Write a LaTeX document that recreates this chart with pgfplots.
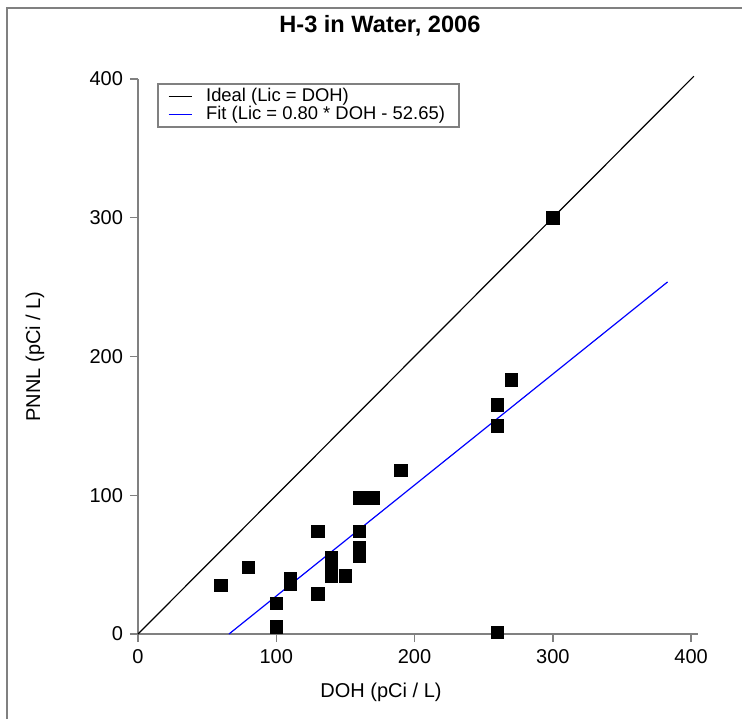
\documentclass[border=0pt]{standalone}
\usepackage{pgfplots}
\pgfplotsset{compat=1.18}
\usepackage{fontspec}
\setmainfont{Liberation Sans}

\begin{document}
\begin{tikzpicture}
\useasboundingbox (-69pt,-42.5pt) rectangle (302pt,317pt);
\draw[gray, line width=1pt] (-65.5pt,-42.5pt) -- (-65.5pt,313pt) -- (302pt,313pt);
\begin{axis}[
  scale only axis,
  width=280pt, height=277.5pt,
  xmin=0, xmax=405, ymin=0, ymax=400,
  enlargelimits=false,
  clip=false,
  axis lines*=left,
  axis line style={gray, line width=0.7pt},
  xtick={0,100,200,300,400},
  ytick={0,100,200,300,400},
  tick align=outside,
  major tick length=4pt,
  tick style={gray, line width=0.7pt},
  /pgf/number format/assume math mode=true,
  tick label style={font=\fontsize{10}{12}\selectfont, black},
  title={H-3 in Water, 2006},
  title style={at={(axis description cs:0.432,1.074)}, anchor=center, yshift=0pt,
    font=\fontsize{11.8}{13}\selectfont\bfseries},
  xlabel={DOH (pCi / L)},
  ylabel={PNNL (pCi / L)},
  label style={font=\fontsize{10}{12}\selectfont},
  xlabel style={at={(axis description cs:0.434,-0.1045)}, anchor=center},
  ylabel style={at={(axis description cs:-0.184,0.5)}, anchor=center},
  legend cell align=left,
  legend image code/.code={\draw[#1] (0pt,0pt) -- (11.5pt,0pt);},
  legend style={at={(axis cs:13.7,397)}, anchor=north west,
    draw=gray, line width=1pt, font=\fontsize{9.2}{10}\selectfont,
    inner xsep=5pt, inner ysep=0pt, row sep=-3pt, column sep=5pt},
]
\addplot[black, line width=0.6pt] coordinates {(0,0) (402,402)};
\addlegendentry{Ideal (Lic = DOH)}
\addplot[blue, line width=0.6pt] coordinates {(65.8,0) (383,253.75)};
\addlegendentry{Fit (Lic = 0.80 * DOH - 52.65)}
\addplot[only marks, mark=square*, mark size=3.1pt, black, forget plot] coordinates {
  (60,35) (80,48) (100,22) (100,5) (110,40) (110,36)
  (130,74) (130,29) (140,55) (140,48) (140,42) (150,42)
  (160,74) (160,98) (170,98) (160,62) (160,56) (190,118)
  (260,165) (260,150) (260,1) (270,183) (300,300)
};
\end{axis}
\end{tikzpicture}
\end{document}
